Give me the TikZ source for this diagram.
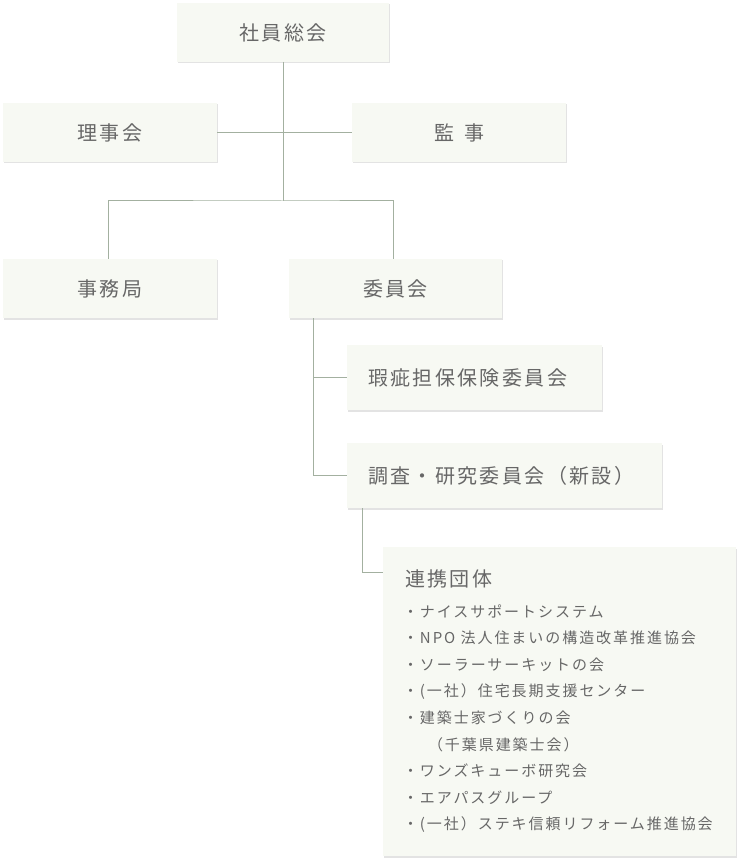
\documentclass[tikz,border=0pt]{standalone}
\usepackage{fontspec}
\setmainfont{Noto Sans CJK JP}
\newfontfamily\boxfont{Noto Sans CJK JP}[LetterSpace=12]
\newfontfamily\listfont{Noto Sans CJK JP}[LetterSpace=13]
\usetikzlibrary{shadows}
\definecolor{boxfill}{HTML}{F7F9F3}
\definecolor{linkgray}{HTML}{A3B0A0}
\definecolor{textgray}{HTML}{676767}
\begin{document}
\begin{tikzpicture}[x=1pt,y=-1pt,inner sep=0pt,outer sep=0pt,
orgbox/.style={rectangle,fill=boxfill,text=textgray,minimum height=59pt,
  font=\boxfont\fontsize{20}{24}\selectfont,
  drop shadow={shadow xshift=1pt,shadow yshift=-1.5pt,fill=black!18,opacity=.6}},
leftbox/.style={orgbox,minimum height=65pt,inner xsep=21pt,align=left},
link/.style={draw=linkgray,line width=1pt}]
\useasboundingbox (0,0) rectangle (740,866);
% top level
\draw (283,32.5) node[orgbox,minimum width=212pt] (soukai) {社員総会};
\draw (110,132.5) node[orgbox,minimum width=214pt] (riji) {理事会};
\draw (459,132.5) node[orgbox,minimum width=214pt] (kanji) {監\hspace{10pt}事};
\draw (110,288.5) node[orgbox,minimum width=214pt] (jimu) {事務局};
\draw (395.5,288.5) node[orgbox,minimum width=213pt] (iinkai) {委員会};
% committees
\draw (474.5,377.5) node[leftbox,text width=213pt] (kashi) {瑕疵担保保険委員会};
\draw (504.5,475.5) node[leftbox,text width=273pt] (chousa) {調査・研究委員会（新設）};
\draw (559.5,701.5) node[orgbox,minimum width=353pt,minimum height=309pt] (renkei) {};
\draw (405,579) node[anchor=west,text=textgray,font=\boxfont\fontsize{20}{24}\selectfont] (renkeihead) {連携団体};
\draw (403,718.5) node[anchor=west,align=left,text=textgray,font=\listfont\fontsize{15}{26.6}\selectfont] (renkeilist)
  {・ナイスサポートシステム\\
   ・NPO 法人住まいの構造改革推進協会\\
   ・ソーラーサーキットの会\\
   ・(一社）住宅長期支援センター\\
   ・建築士家づくりの会\\
   \hspace*{25pt}（千葉県建築士会）\\
   ・ワンズキューボ研究会\\
   ・エアパスグループ\\
   ・(一社）ステキ信頼リフォーム推進協会};
% connectors
\coordinate (j2) at (283,201);
\draw[link] (soukai.south) -- (j2);
\draw[link] (riji.east) -- (kanji.west);
\draw[link] (jimu.north -| 108,0) |- (j2) -| (iinkai.north -| 393,0);
\draw[link] (iinkai.south -| 313,0) |- (kashi.west);
\draw[link] (iinkai.south -| 313,0) |- (chousa.west);
\draw[link] (chousa.south -| 362,0) |- (renkei.west |- 0,572);
\end{tikzpicture}
\end{document}
